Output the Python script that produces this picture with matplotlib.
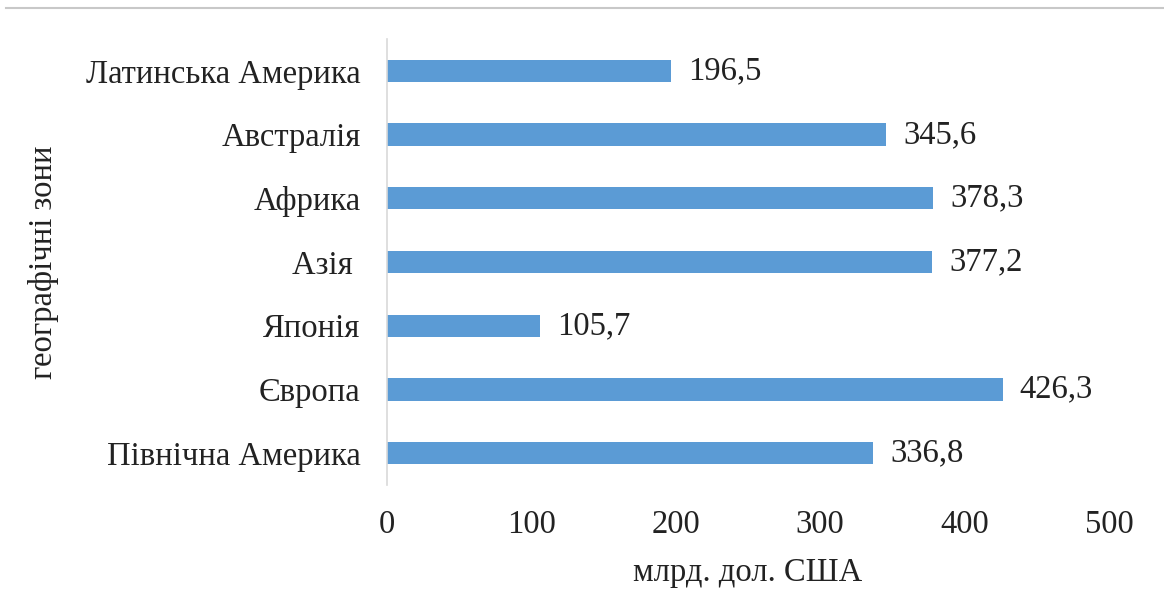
import matplotlib.pyplot as plt
from matplotlib.lines import Line2D

regions = ["Латинська Америка", "Австралія", "Африка", "Азія ", "Японія", "Європа", "Північна Америка"]
values = [196.5, 345.6, 378.3, 377.2, 105.7, 426.3, 336.8]
xticks = [0, 100, 200, 300, 400, 500]

plt.rcParams['font.family'] = ['Liberation Serif', 'DejaVu Serif']
FS = 23.5
INK = '#222222'

fig = plt.figure(figsize=(11.64, 5.98), dpi=100)
ax = fig.add_axes([0.3325, 0.189, 0.6202, 0.7458])

pos = list(range(len(regions)))
ax.barh(pos, values, height=0.35, color='#5B9BD5')
for p, v in zip(pos, values):
    ax.text(v + 12, p, f"{v:.1f}".replace('.', ','), va='center', ha='left',
            fontsize=FS, color=INK)

ax.set_xlim(0, 500)
ax.set_ylim(len(regions) - 0.5, -0.5)
ax.set_yticks(pos)
ax.set_yticklabels(regions, fontsize=FS, color=INK)
ax.set_xticks(xticks)
ax.set_xticklabels([str(t) for t in xticks], fontsize=FS, color=INK)
ax.tick_params(axis='both', length=0)
ax.tick_params(axis='y', pad=19)
ax.tick_params(axis='x', pad=18)

for s in ['top', 'right', 'bottom']:
    ax.spines[s].set_visible(False)
ax.spines['left'].set_color('#d9d9d9')
ax.spines['left'].set_linewidth(1.2)

ax.set_xlabel("млрд. дол. США", fontsize=FS, color=INK, labelpad=12)
ax.set_ylabel("географічні зони", fontsize=FS, color=INK)
ax.yaxis.set_label_coords(-0.455, 0.5)

# thin rule along the top edge
fig.add_artist(Line2D([0.005, 1.0], [0.987, 0.987], color='#c8c8c8', lw=1.5,
                      transform=fig.transFigure))

fig.savefig("out.png", dpi=100)
